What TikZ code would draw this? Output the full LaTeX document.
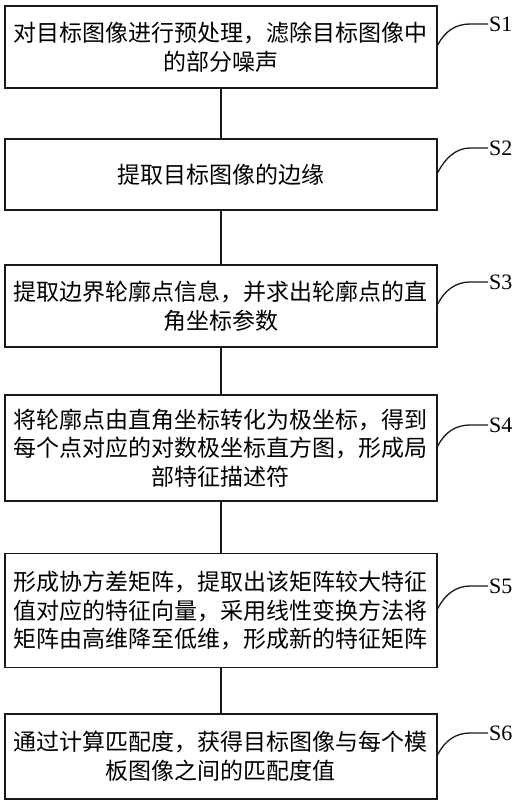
\documentclass[tikz,border=0pt]{standalone}
\usepackage{fontspec}
\setmainfont{Liberation Serif}
\newfontfamily\cjk{Noto Sans CJK SC}
\begin{document}
\begin{tikzpicture}[x=1pt,y=-1pt,
  stepbox/.style={draw=black!90, line width=1.6pt, minimum width=432pt, inner sep=0pt,
    text width=432pt, align=center, font={\cjk\fontsize{23pt}{28.7pt}\selectfont}},
  steplabel/.style={inner sep=1pt, anchor=west, font={\fontsize{22pt}{24pt}\selectfont}},
  link/.style={line width=1.6pt, draw=black!90},
  tag/.style={line width=1.3pt, draw=black!90}]
\useasboundingbox (0,0) rectangle (527,812);

\node[stepbox, minimum height=82pt] (b1) at (221,47) {对目标图像进行预处理，滤除目标图像中\\的部分噪声};
\node[stepbox, minimum height=71pt] (b2) at (221,174.5) {提取目标图像的边缘};
\node[stepbox, minimum height=82pt] (b3) at (221,306) {提取边界轮廓点信息，并求出轮廓点的直\\角坐标参数};
\node[stepbox, minimum height=106pt] (b4) at (221,448) {将轮廓点由直角坐标转化为极坐标，得到\\每个点对应的对数极坐标直方图，形成局\\部特征描述符};
\node[stepbox, minimum height=114pt] (b5) at (221,610.5) {形成协方差矩阵，提取出该矩阵较大特征\\值对应的特征向量，采用线性变换方法将\\矩阵由高维降至低维，形成新的特征矩阵};
\node[stepbox, minimum height=85pt] (b6) at (221,756.5) {通过计算匹配度，获得目标图像与每个模\\板图像之间的匹配度值};

\draw[link] (b1.south) -- (b2.north);
\draw[link] (b2.south) -- (b3.north);
\draw[link] (b3.south) -- (b4.north);
\draw[link] (b4.south) -- (b5.north);
\draw[link] (b5.south) -- (b6.north);

\node[steplabel] (s1) at (488,24) {S1};
\node[steplabel] (s2) at (488,148) {S2};
\node[steplabel] (s3) at (488,282) {S3};
\node[steplabel] (s4) at (488,425) {S4};
\node[steplabel] (s5) at (488,586) {S5};
\node[steplabel] (s6) at (488,733) {S6};

\foreach \i in {1,...,6}{
  \draw[tag] ([yshift=2pt]b\i.east) .. controls +(7,-14) and +(-14,0) .. ([xshift=-18pt]s\i.west) -- (s\i.west);
}
\end{tikzpicture}
\end{document}
